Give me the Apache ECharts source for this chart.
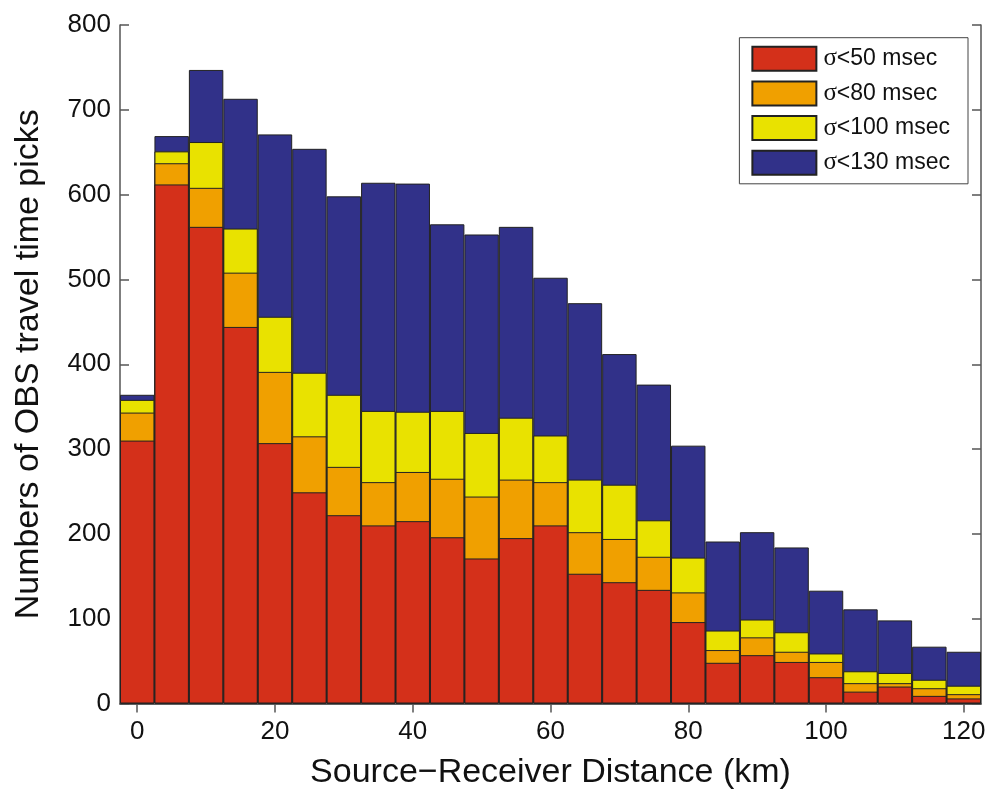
<!DOCTYPE html>
<html>
<head>
<meta charset="utf-8">
<script src="https://cdn.jsdelivr.net/npm/echarts@6/dist/echarts.min.js"></script>
<style>
html,body{margin:0;padding:0;background:#fff;}
#chart{width:989px;height:790px;}
</style>
</head>
<body>
<div id="chart"></div>
<script>
// Distance bins (km, bin centres)
const categories = ['0','5','10','15','20','25','30','35','40','45','50','55','60','65','70','75','80','85','90','95','100','105','110','115','120'];
// Cumulative pick counts for each uncertainty threshold
const sigma50  = [310, 612, 562, 444, 307, 249, 222, 210, 215, 196, 171, 195, 210, 153, 143, 134, 96, 48, 57, 49, 31, 14, 20, 9, 6];
const sigma80  = [343, 637, 608, 508, 391, 315, 279, 261, 273, 265, 244, 264, 261, 202, 194, 173, 131, 63, 78, 61, 49, 24, 24, 18, 11];
const sigma100 = [358, 651, 662, 560, 456, 390, 364, 345, 344, 345, 319, 337, 316, 264, 258, 216, 172, 86, 99, 84, 59, 38, 36, 28, 21];
const sigma130 = [364, 669, 747, 713, 671, 654, 598, 614, 613, 565, 553, 562, 502, 472, 412, 376, 304, 191, 202, 184, 133, 111, 98, 67, 61];
const yTicks = {min: 0, max: 800, interval: 100};
const seriesNames = ['σ<50 msec', 'σ<80 msec', 'σ<100 msec', 'σ<130 msec'];

const FONT = 'Liberation Sans, Arial, Helvetica, sans-serif';
const colors = {
  'σ<50 msec': '#D4301A',
  'σ<80 msec': '#F0A000',
  'σ<100 msec': '#E9E200',
  'σ<130 msec': '#313189'
};
const axisColor = '#555';

function bar(name, data) {
  return {
    name: name,
    type: 'bar',
    data: data,
    barGap: '-100%',
    barCategoryGap: '0%',
    itemStyle: {color: colors[name], borderColor: '#222', borderWidth: 1},
    emphasis: {disabled: true},
    animation: false
  };
}

const chart = echarts.init(document.getElementById('chart'), null, {renderer: 'canvas'});
chart.setOption({
  backgroundColor: '#fff',
  animation: false,
  grid: {left: 120, right: 8, top: 25, bottom: 86.5, containLabel: false, outerBoundsMode: 'none'},
  legend: {
    data: seriesNames,
    orient: 'vertical',
    icon: 'rect',
    right: 21,
    top: 37.7,
    itemWidth: 64,
    itemHeight: 24,
    itemGap: 8.7,
    padding: [8, 18, 8, 12],
    borderColor: '#444',
    borderWidth: 1,
    backgroundColor: '#fff',
    selectedMode: false,
    formatter: function (n) { return '{s|σ}{t|' + n.slice(1) + '}'; },
    textStyle: {
      color: '#111',
      fontFamily: FONT,
      fontSize: 23,
      padding: [0, 0, 0, 2],
      rich: {
        s: {fontFamily: 'Liberation Serif, DejaVu Serif, serif', fontSize: 25, color: '#111'},
        t: {fontFamily: FONT, fontSize: 23, color: '#111'}
      }
    }
  },
  xAxis: [{
    type: 'category',
    data: categories,
    position: 'bottom',
    boundaryGap: true,
    name: 'Source\u2212Receiver Distance (km)',
    nameLocation: 'middle',
    nameGap: 52,
    nameTextStyle: {fontFamily: FONT, fontSize: 34, color: '#111'},
    axisLine: {lineStyle: {color: axisColor, width: 1.5}},
    axisTick: {show: true, inside: true, length: 9, interval: 3, alignWithLabel: true, lineStyle: {color: axisColor, width: 1.5}},
    axisLabel: {interval: 3, margin: 15, fontFamily: FONT, fontSize: 26, color: '#111'},
    splitLine: {show: false}
  }, {
    type: 'category',
    data: categories,
    position: 'top',
    boundaryGap: true,
    axisLine: {lineStyle: {color: axisColor, width: 1.5}},
    axisTick: {show: true, inside: true, length: 9, interval: 3, alignWithLabel: true, lineStyle: {color: axisColor, width: 1.5}},
    axisLabel: {show: false},
    splitLine: {show: false}
  }],
  yAxis: [{
    type: 'value',
    min: yTicks.min, max: yTicks.max, interval: yTicks.interval,
    position: 'left',
    name: 'Numbers of OBS travel time picks',
    nameLocation: 'middle',
    nameGap: 74,
    nameTextStyle: {fontFamily: FONT, fontSize: 34, color: '#111'},
    axisLine: {show: true, lineStyle: {color: axisColor, width: 1.5}},
    axisTick: {show: true, inside: true, length: 9, lineStyle: {color: axisColor, width: 1.5}},
    axisLabel: {margin: 9, fontFamily: FONT, fontSize: 26, color: '#111'},
    splitLine: {show: false}
  }, {
    type: 'value',
    min: yTicks.min, max: yTicks.max, interval: yTicks.interval,
    position: 'right',
    axisLine: {show: true, lineStyle: {color: axisColor, width: 1.5}},
    axisTick: {show: true, inside: true, length: 9, lineStyle: {color: axisColor, width: 1.5}},
    axisLabel: {show: false},
    splitLine: {show: false}
  }],
  series: [
    bar('σ<130 msec', sigma130),
    bar('σ<100 msec', sigma100),
    bar('σ<80 msec', sigma80),
    bar('σ<50 msec', sigma50)
  ]
});
</script>
</body>
</html>
